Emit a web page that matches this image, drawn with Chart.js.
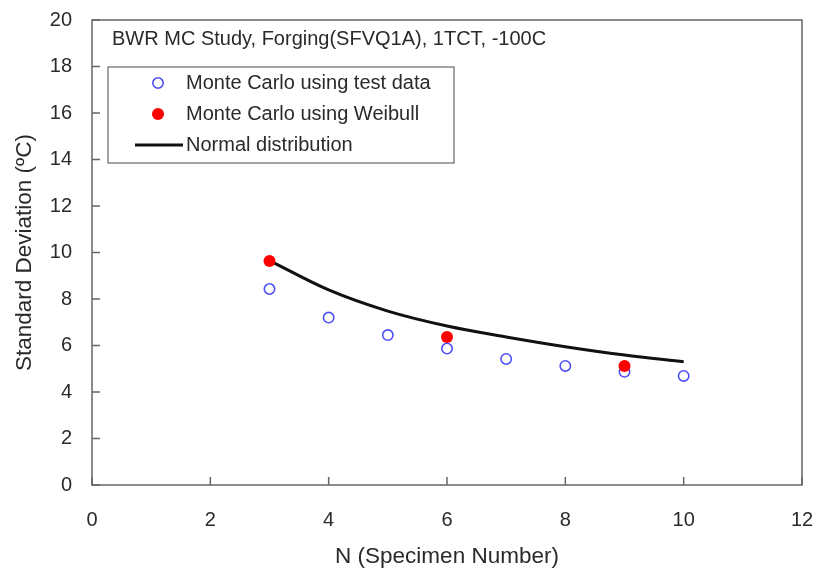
<!DOCTYPE html>
<html>
<head>
<meta charset="utf-8">
<script src="https://cdn.jsdelivr.net/npm/chart.js@4/dist/chart.umd.min.js"></script>
<style>
  html, body { margin: 0; padding: 0; background: #fff; }
  #wrap { width: 822px; height: 578px; }
</style>
</head>
<body>
<div id="wrap"><canvas id="chart" width="822" height="578"></canvas></div>
<script>
const FONT = "'Liberation Sans', Arial, sans-serif";

// values
const testN = [3, 4, 5, 6, 7, 8, 9, 10];
const testSd = [8.43, 7.2, 6.45, 5.87, 5.42, 5.12, 4.87, 4.69];
const weibullN = [3, 6, 9];
const weibullSd = [9.63, 6.37, 5.12];
const normalN = [3, 4, 5, 6, 7, 8, 9, 10];
const normalSd = [9.65, 8.39, 7.48, 6.84, 6.37, 5.95, 5.59, 5.3];

const xTicks = [0, 2, 4, 6, 8, 10, 12];
const yTicks = [0, 2, 4, 6, 8, 10, 12, 14, 16, 18, 20];

const noteText = 'BWR MC Study, Forging(SFVQ1A), 1TCT, -100C';
const legendLabels = ['Monte Carlo using test data', 'Monte Carlo using Weibull', 'Normal distribution'];

const toPoints = (xs, ys) => xs.map((x, i) => ({ x, y: ys[i] }));

// box round the plot with inward ticks
const frame = {
    id: 'frame',
    afterDatasetsDraw(chart) {
        const { ctx, chartArea: a, scales } = chart;
        ctx.save();
        ctx.strokeStyle = '#666';
        ctx.lineWidth = 1.5;
        ctx.strokeRect(a.left, a.top, a.right - a.left, a.bottom - a.top);
        ctx.beginPath();
        xTicks.forEach(v => {
            const px = scales.x.getPixelForValue(v);
            ctx.moveTo(px, a.bottom);
            ctx.lineTo(px, a.bottom - 8);
        });
        yTicks.forEach(v => {
            const py = scales.y.getPixelForValue(v);
            ctx.moveTo(a.left, py);
            ctx.lineTo(a.left + 8, py);
        });
        ctx.stroke();
        ctx.restore();
    }
};

// note text and the boxed legend inside the plot
const notes = {
    id: 'notes',
    afterDraw(chart) {
        const { ctx, chartArea: a } = chart;
        const ds = chart.data.datasets;
        ctx.save();
        ctx.fillStyle = '#2a2a2a';
        ctx.font = '20px ' + FONT;
        ctx.textBaseline = 'alphabetic';
        ctx.fillText(noteText, a.left + 20, 45);

        const bx = a.left + 16, by = 67, bw = 346, bh = 96;
        ctx.strokeStyle = '#666';
        ctx.lineWidth = 1.2;
        ctx.strokeRect(bx, by, bw, bh);

        const rows = [83, 114, 145];
        ctx.textBaseline = 'middle';
        rows.forEach((ry, i) => ctx.fillText(legendLabels[i], bx + 78, ry));

        ctx.beginPath();
        ctx.arc(bx + 50, rows[0], ds[0].pointRadius, 0, Math.PI * 2);
        ctx.strokeStyle = ds[0].borderColor;
        ctx.lineWidth = ds[0].borderWidth;
        ctx.stroke();

        ctx.beginPath();
        ctx.arc(bx + 50, rows[1], ds[1].pointRadius, 0, Math.PI * 2);
        ctx.fillStyle = ds[1].backgroundColor;
        ctx.fill();

        ctx.beginPath();
        ctx.moveTo(bx + 27, rows[2]);
        ctx.lineTo(bx + 75, rows[2]);
        ctx.strokeStyle = ds[2].borderColor;
        ctx.lineWidth = ds[2].borderWidth;
        ctx.stroke();
        ctx.restore();
    }
};

new Chart(document.getElementById('chart'), {
    type: 'scatter',
    data: {
        datasets: [
            {
                label: legendLabels[0],
                data: toPoints(testN, testSd),
                pointRadius: 5.2,
                borderColor: '#4f4ff5',
                backgroundColor: 'rgba(255,255,255,0)',
                borderWidth: 1.6,
                order: 2
            },
            {
                label: legendLabels[1],
                data: toPoints(weibullN, weibullSd),
                pointRadius: 6,
                borderColor: '#ff0000',
                backgroundColor: '#ff0000',
                borderWidth: 0,
                order: 1
            },
            {
                label: legendLabels[2],
                data: toPoints(normalN, normalSd),
                showLine: true,
                pointRadius: 0,
                borderColor: '#111',
                borderWidth: 3,
                tension: 0.35,
                order: 3
            }
        ]
    },
    options: {
        responsive: false,
        animation: false,
        layout: { padding: { top: 20, right: 20, left: 0, bottom: 0 } },
        plugins: {
            legend: { display: false },
            tooltip: { enabled: false }
        },
        scales: {
            x: {
                type: 'linear',
                min: 0,
                max: 12,
                afterBuildTicks: s => { s.ticks = xTicks.map(v => ({ value: v })); },
                afterFit: s => {
                    s.height = 93;
                    s.paddingLeft = 0;
                    s.paddingRight = 0;
                },
                grid: { display: false, drawTicks: false },
                border: { display: false },
                ticks: { color: '#2a2a2a', font: { family: FONT, size: 20 }, padding: 23 },
                title: {
                    display: true,
                    text: 'N (Specimen Number)',
                    color: '#2a2a2a',
                    font: { family: FONT, size: 22.5 },
                    padding: { top: 0, bottom: 8 }
                }
            },
            y: {
                min: 0,
                max: 20,
                afterBuildTicks: s => { s.ticks = yTicks.map(v => ({ value: v })); },
                afterFit: s => {
                    s.width = 92;
                    s.paddingTop = 0;
                    s.paddingBottom = 0;
                },
                grid: { display: false, drawTicks: false },
                border: { display: false },
                ticks: { color: '#2a2a2a', font: { family: FONT, size: 20 }, padding: 20 },
                title: {
                    display: true,
                    text: 'Standard Deviation (ºC)',
                    color: '#2a2a2a',
                    font: { family: FONT, size: 22.5 },
                    padding: { top: 11, bottom: 0 }
                }
            }
        }
    },
    plugins: [frame, notes]
});
</script>
</body>
</html>
